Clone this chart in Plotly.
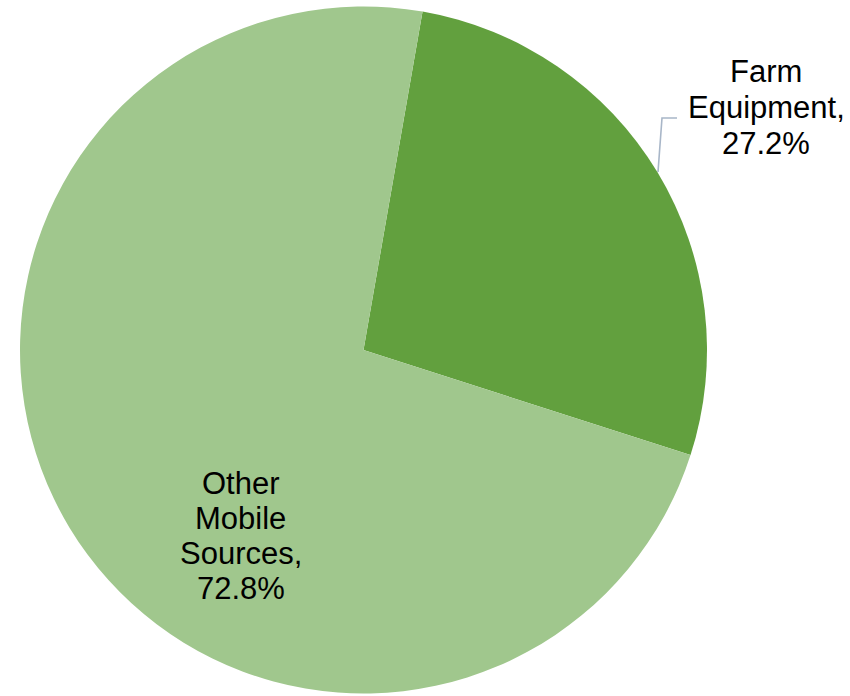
import plotly.graph_objects as go

# Share of emissions by mobile source category
categories = ["Farm Equipment", "Other Mobile Sources"]
shares = [27.2, 72.8]
colors = ["#62a03e", "#a0c78d"]

W, H = 850, 696
FONT = "Liberation Sans, Arial, sans-serif"
FONT_SIZE = 31


def px(x):
    return x / W


def py(y):
    return 1 - y / H


fig = go.Figure(
    go.Pie(
        labels=categories,
        values=shares,
        sort=False,
        direction="clockwise",
        rotation=9.9,
        marker=dict(colors=colors, line=dict(width=0)),
        textinfo="none",
        hoverinfo="label+percent",
        domain=dict(x=[px(20), px(707)], y=[py(694), py(6)]),
        showlegend=False,
    )
)


def label_lines(name, value):
    words = name.split(" ")
    if len(words) == 2:
        lines = [words[0], words[1] + ","]
    else:
        lines = words[:-1] + [words[-1] + ","]
    return lines + [f"{value:.1f}%"]


# label placement: (center x, first line center y, line step) in pixels
placements = [(766, 72, 36), (241, 483, 35)]

annotations = []
for name, value, (cx, cy, step) in zip(categories, shares, placements):
    for i, line in enumerate(label_lines(name, value)):
        annotations.append(
            dict(
                text=line,
                x=px(cx),
                y=py(cy + i * step),
                xref="paper",
                yref="paper",
                xanchor="center",
                yanchor="middle",
                showarrow=False,
                font=dict(family=FONT, size=FONT_SIZE, color="#000000"),
            )
        )

# leader line for the outside label
fig.add_shape(
    type="path",
    xref="paper",
    yref="paper",
    path=f"M {px(658)},{py(172)} L {px(662)},{py(118)} L {px(677)},{py(118)}",
    line=dict(color="#a8b6c8", width=1.6),
)

fig.update_layout(
    width=W,
    height=H,
    margin=dict(l=0, r=0, t=0, b=0),
    paper_bgcolor="#ffffff",
    plot_bgcolor="#ffffff",
    annotations=annotations,
)

fig.write_html("out.html")
